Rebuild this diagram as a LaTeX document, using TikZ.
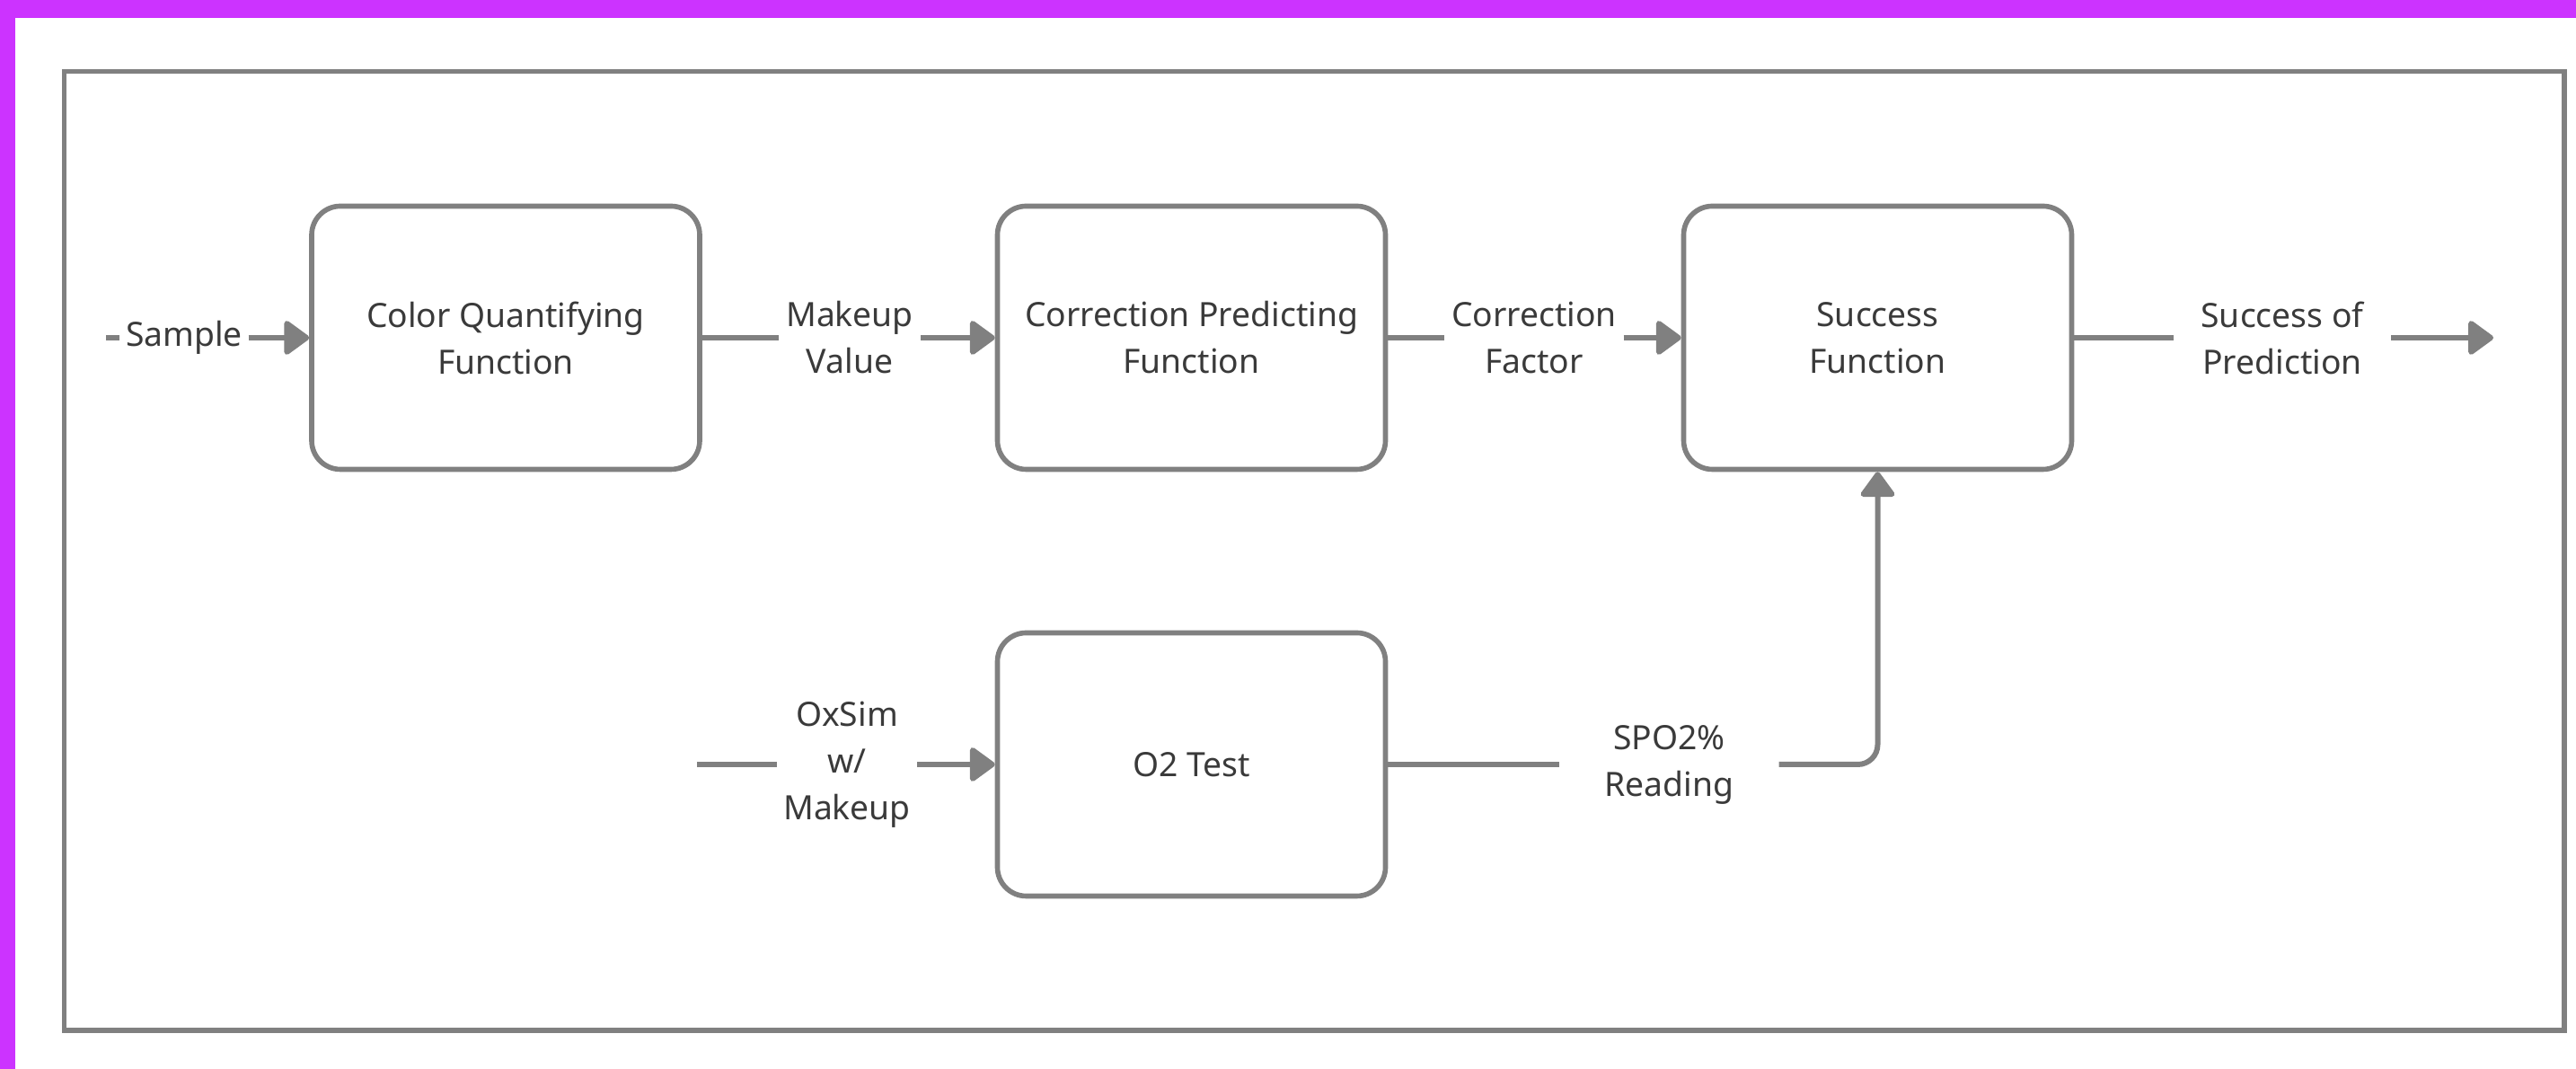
\documentclass[tikz,border=0pt]{standalone}
\usepackage{fontspec}
\setmainfont{Noto Sans}
\definecolor{linegray}{RGB}{128,128,128}
\definecolor{textgray}{RGB}{58,58,58}
\definecolor{brightmagenta}{RGB}{204,51,255}
\usetikzlibrary{arrows.meta}

\begin{document}
\begin{tikzpicture}[
      ln/.style={line width=1.7pt, linegray},
      arr/.style={-{Triangle[length=0.30cm, width=0.42cm, round]}, ln},
      fbox/.style={draw=linegray, line width=1.6pt, rounded corners=0.32cm,
                   minimum width=4.32cm, minimum height=2.93cm, align=center,
                   text=textgray, font=\fontsize{10.6}{14.8}\selectfont},
      lbl/.style={inner sep=0pt, align=center, text=textgray,
                  font=\fontsize{10.6}{14.8}\selectfont}
    ]
    % page, margins and frame
    \fill[white] (0,0) rectangle (28.68,11.90);
    \useasboundingbox (0,0) rectangle (28.68,11.90);
    \fill[brightmagenta] (0,11.70) rectangle (28.68,11.90);
    \fill[brightmagenta] (0,0) rectangle (0.17,11.90);
    \draw[linegray, line width=1.5pt] (0.715,0.43) rectangle (28.55,11.105);

    \node[fbox] (quant) at (5.63,8.14) {Color Quantifying\\Function};
    \node[fbox] (corr) at (13.265,8.14) {Correction Predicting\\Function};
    \node[fbox] (succ) at (20.905,8.14) {Success\\Function};
    \node[fbox] (otest) at (13.265,3.39) {O2 Test};

    \coordinate (sampIn) at (1.18,8.14);
    \coordinate (predOut) at (27.76,8.14);
    \coordinate (oxIn) at (7.76,3.39);

    \node[lbl, minimum width=1.42cm] (lSample) at (2.05,8.14) {Sample};
    \node[lbl, minimum width=1.57cm] (lMakeup) at (9.46,8.14) {Makeup\\Value};
    \node[lbl, minimum width=1.98cm] (lFactor) at (17.08,8.14) {Correction\\Factor};
    \node[lbl, minimum width=2.41cm] (lPred) at (25.41,8.14) {Success of\\Prediction};
    \node[lbl, minimum width=1.55cm] (lOxSim) at (9.43,3.39) {OxSim\\w/\\Makeup};
    \node[lbl, minimum width=2.43cm] (lSpo) at (18.585,3.39) {SPO2\%\\Reading};

    \draw[ln] (sampIn) -- (lSample);
    \draw[arr] (lSample) -- (quant);
    \draw[ln] (quant) -- (lMakeup);
    \draw[arr] (lMakeup) -- (corr);
    \draw[ln] (corr) -- (lFactor);
    \draw[arr] (lFactor) -- (succ);
    \draw[ln] (succ) -- (lPred);
    \draw[arr] (lPred) -- (predOut);
    \draw[ln] (oxIn) -- (lOxSim);
    \draw[arr] (lOxSim) -- (otest);
    \draw[ln] (otest) -- (lSpo);
    \draw[arr, rounded corners=0.22cm] (lSpo) -| (succ);
  \end{tikzpicture}
\end{document}
